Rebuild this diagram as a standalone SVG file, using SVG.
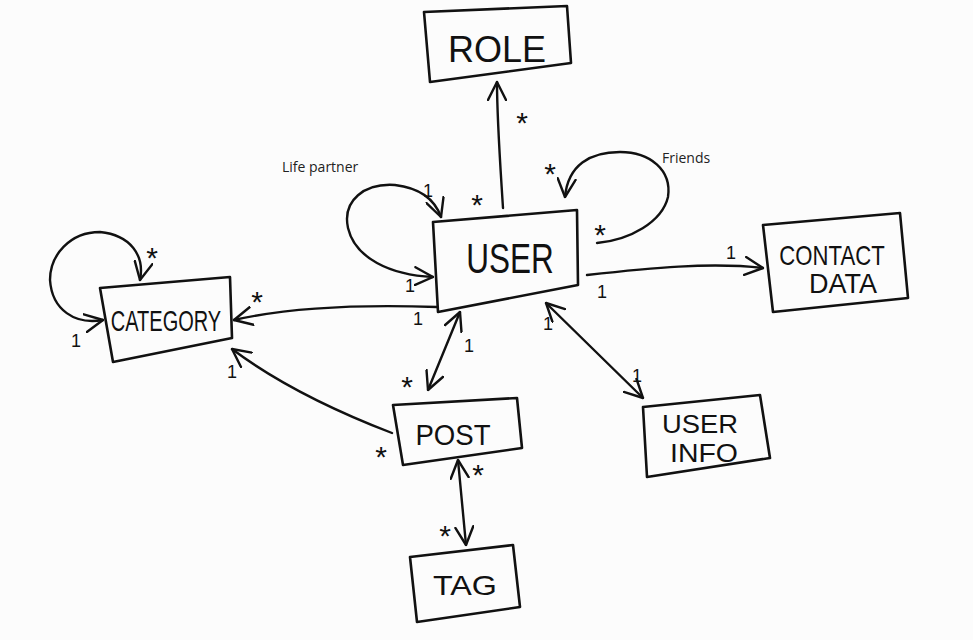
<svg xmlns="http://www.w3.org/2000/svg" width="973" height="640" viewBox="0 0 973 640">
<defs>
<marker id="arr" viewBox="0 0 20 20" refX="19" refY="10" markerWidth="20" markerHeight="20" markerUnits="userSpaceOnUse" orient="auto-start-reverse">
<path d="M1,1 L19,10 L1,19" fill="none" stroke="#111" stroke-width="2.4" stroke-linecap="round" stroke-linejoin="round"/>
</marker>
<style>
.box{fill:none;stroke:#111;stroke-width:2.6;stroke-linejoin:round;stroke-linecap:round}
.con{fill:none;stroke:#111;stroke-width:2.4;stroke-linecap:round}
.lbl{font-family:"Liberation Sans",Arial,sans-serif;fill:#111;text-anchor:middle}
.m{font-family:"Liberation Sans",Arial,sans-serif;fill:#111;text-anchor:middle;font-size:30px}
.one{font-family:"Liberation Sans",Arial,sans-serif;fill:#111;text-anchor:middle;font-size:18px}
.note{font-family:"Open Sans","DejaVu Sans",sans-serif;fill:#222;font-size:14px}
</style>
</defs>
<rect width="973" height="640" fill="#fcfcfc"/>

<g id="connectors">
<path class="con" d="M503,208 C500,160 497,120 497,82" marker-end="url(#arr)"/>
<path class="con" d="M433,277 C390,275 355,258 348,228 C342,200 365,183 395,185 C420,188 435,200 441,217" marker-start="url(#arr)" marker-end="url(#arr)"/>
<path class="con" d="M597,243 C630,240 662,222 668,197 C672,170 650,152 620,152 C590,152 568,165 565,197" marker-end="url(#arr)"/>
<path class="con" d="M140,280 C145,255 130,235 100,232 C70,232 50,255 50,280 C52,310 75,325 103,320" marker-start="url(#arr)" marker-end="url(#arr)"/>
<path class="con" d="M437,307 C380,305 300,305 234,320" marker-end="url(#arr)"/>
<path class="con" d="M392,433 C340,413 280,385 232,349" marker-end="url(#arr)"/>
<path class="con" d="M460,312 L428,390" marker-start="url(#arr)" marker-end="url(#arr)"/>
<path class="con" d="M546,303 L643,398" marker-start="url(#arr)" marker-end="url(#arr)"/>
<path class="con" d="M458,460 L466,545" marker-start="url(#arr)" marker-end="url(#arr)"/>
<path class="con" d="M587,275 C650,268 710,262 763,268" marker-end="url(#arr)"/>

<text class="m" x="522" y="133">*</text>
<text class="m" x="477" y="215">*</text>
<text class="one" x="428" y="197">1</text>
<text class="one" x="410" y="292">1</text>
<text class="m" x="550" y="184">*</text>
<text class="m" x="600" y="245">*</text>
<text class="m" x="152" y="268">*</text>
<text class="one" x="76" y="347">1</text>
<text class="m" x="257" y="312">*</text>
<text class="one" x="418" y="325">1</text>
<text class="one" x="232" y="378">1</text>
<text class="m" x="381" y="467">*</text>
<text class="one" x="469" y="352">1</text>
<text class="m" x="407" y="397">*</text>
<text class="one" x="548" y="330">1</text>
<text class="one" x="637" y="382">1</text>
<text class="m" x="478" y="485">*</text>
<text class="m" x="445" y="546">*</text>
<text class="one" x="602" y="298">1</text>
<text class="one" x="731" y="259">1</text>

<text class="note" x="282" y="172">Life partner</text>
<text class="note" x="662" y="163">Friends</text>
</g>

<g id="role">
<path class="box" d="M424,12 L567,6 L571,63 L430,82 Z"/>
<text class="lbl" x="497" y="62" font-size="36">ROLE</text>
</g>

<g id="user">
<path class="box" d="M433,222 L577,210 L578,285 L438,312 Z"/>
<text class="lbl" transform="translate(510,273) scale(0.75,1)" font-size="42">USER</text>
</g>

<g id="category">
<path class="box" d="M100,288 L230,277 L232,338 L113,362 Z"/>
<text class="lbl" transform="translate(166,331) scale(0.667,1)" font-size="30">CATEGORY</text>
</g>

<g id="contact-data">
<path class="box" d="M763,225 L900,213 L908,298 L773,312 Z"/>
<text class="lbl" transform="translate(832,265) scale(0.82,1)" font-size="27">CONTACT</text>
<text class="lbl" x="843" y="293" font-size="27">DATA</text>
</g>

<g id="post">
<path class="box" d="M393,405 L517,398 L522,448 L403,465 Z"/>
<text class="lbl" transform="translate(453,445) scale(0.92,1)" font-size="30">POST</text>
</g>

<g id="user-info">
<path class="box" d="M643,407 L760,395 L770,458 L647,477 Z"/>
<text class="lbl" x="700" y="433" font-size="25" textLength="76" lengthAdjust="spacingAndGlyphs">USER</text>
<text class="lbl" x="704" y="462" font-size="25" textLength="68" lengthAdjust="spacingAndGlyphs">INFO</text>
</g>

<g id="tag">
<path class="box" d="M410,557 L513,545 L520,607 L417,622 Z"/>
<text class="lbl" x="465" y="595" font-size="28" textLength="64" lengthAdjust="spacingAndGlyphs">TAG</text>
</g>
</svg>
